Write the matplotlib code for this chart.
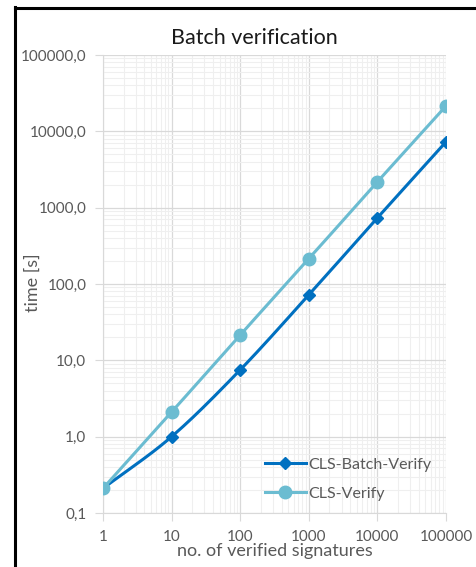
import numpy as np
import matplotlib
matplotlib.use("Agg")
import matplotlib.pyplot as plt
from matplotlib.lines import Line2D
from matplotlib.ticker import FixedLocator, FixedFormatter, LogLocator, NullFormatter

plt.rcParams['font.family'] = ['Lato', 'DejaVu Sans']

n_signatures = [1, 10, 100, 1000, 10000, 100000]
batch_verify = [0.21, 1.0, 7.5, 72, 735, 7280]
cls_verify = [0.21, 2.1, 21.5, 214, 2180, 21500]
x_tick_labels = ["1", "10", "100", "1000", "10000", "100000"]
y_ticks = [0.1, 1, 10, 100, 1000, 10000, 100000]
y_tick_labels = ["0,1", "1,0", "10,0", "100,0", "1000,0", "10000,0", "100000,0"]

C_BATCH = "#0070C0"
C_VER = "#6BBCD1"
GRAY = "#595959"


def smooth_loglog(xs, ys, n=30):
    # Catmull-Rom smoothing in log-log space (for drawing the connecting curve)
    lx = np.log10(xs)
    ly = np.log10(ys)
    P = np.column_stack([lx, ly])
    P = np.vstack([2 * P[0] - P[1], P, 2 * P[-1] - P[-2]])
    out = []
    for i in range(1, len(P) - 2):
        p0, p1, p2, p3 = P[i - 1], P[i], P[i + 1], P[i + 2]
        t = np.linspace(0, 1, n)[:, None]
        c1 = p1 + (p2 - p0) / 6.0
        c2 = p2 - (p3 - p1) / 6.0
        seg = ((1 - t) ** 3) * p1 + 3 * ((1 - t) ** 2) * t * c1 + 3 * (1 - t) * t ** 2 * c2 + t ** 3 * p2
        out.append(seg if i == 1 else seg[1:])
    seg = np.vstack(out)
    return 10 ** seg[:, 0], 10 ** seg[:, 1]


fig = plt.figure(figsize=(4.77, 5.67), dpi=100)
fig.patch.set_facecolor("white")
W, H = 477, 567
ax = fig.add_axes([103 / W, 1 - 513 / H, (446 - 103) / W, (513 - 55) / H])
ax.set_facecolor("white")

ax.set_xscale("log")
ax.set_yscale("log")
ax.set_xlim(1, 100000)
ax.set_ylim(0.1, 100000)

ax.xaxis.set_major_locator(FixedLocator(n_signatures))
ax.xaxis.set_major_formatter(FixedFormatter(x_tick_labels))
ax.yaxis.set_major_locator(FixedLocator(y_ticks))
ax.yaxis.set_major_formatter(FixedFormatter(y_tick_labels))
ax.xaxis.set_minor_locator(LogLocator(base=10, subs=np.arange(2, 10), numticks=100))
ax.yaxis.set_minor_locator(LogLocator(base=10, subs=np.arange(2, 10), numticks=100))
ax.xaxis.set_minor_formatter(NullFormatter())
ax.yaxis.set_minor_formatter(NullFormatter())

ax.grid(which="major", color="#d9d9d9", linewidth=0.9)
ax.grid(which="minor", color="#efefef", linewidth=0.8)
ax.set_axisbelow(True)

for s in ["top", "right"]:
    ax.spines[s].set_visible(False)
ax.spines["left"].set_color("#d9d9d9")
ax.spines["bottom"].set_color("#d9d9d9")
ax.tick_params(which="major", length=6, color="#d9d9d9", labelcolor=GRAY, labelsize=11, pad=6)
ax.tick_params(which="minor", length=0)

bx, by = smooth_loglog(n_signatures, batch_verify)
vx, vy = smooth_loglog(n_signatures, cls_verify)
ax.plot(bx, by, color=C_BATCH, linewidth=2.2, zorder=3)
ax.plot(n_signatures, batch_verify, linestyle="none", marker="D", markersize=6.5,
        color=C_BATCH, zorder=4)
ax.plot(vx, vy, color=C_VER, linewidth=2.2, zorder=5)
ax.plot(n_signatures, cls_verify, linestyle="none", marker="o", markersize=9,
        color=C_VER, zorder=6)

handles = [
    Line2D([], [], color=C_BATCH, linewidth=2.2, marker="D", markersize=6.5),
    Line2D([], [], color=C_VER, linewidth=2.2, marker="o", markersize=9),
]
leg = ax.legend(handles, ["CLS-Batch-Verify", "CLS-Verify"], loc="lower right",
                bbox_to_anchor=(1.0, -0.005), frameon=False, fontsize=11.5,
                labelcolor=GRAY, handlelength=2.6, handletextpad=0.15,
                labelspacing=0.95)
leg.set_zorder(10)

fig.text(254 / W, 1 - 38 / H, "Batch verification", ha="center", va="center",
         fontsize=15.5, color="#1a1a1a")
fig.text(33 / W, 1 - 283 / H, "time [s]", ha="center", va="center", rotation=90,
         fontsize=13, color=GRAY)
fig.text(275 / W, 1 - 551 / H, "no. of verified signatures", ha="center", va="center",
         fontsize=13, color=GRAY)

# screenshot frame lines (left & top)
fig.add_artist(Line2D([15.5 / W, 15.5 / W], [0, 1 - 7 / H], color="black", linewidth=2.2,
                      transform=fig.transFigure))
fig.add_artist(Line2D([15.5 / W, 1], [1 - 7.5 / H, 1 - 7.5 / H], color="black", linewidth=2.2,
                      transform=fig.transFigure))

fig.savefig("out.png", dpi=100)
